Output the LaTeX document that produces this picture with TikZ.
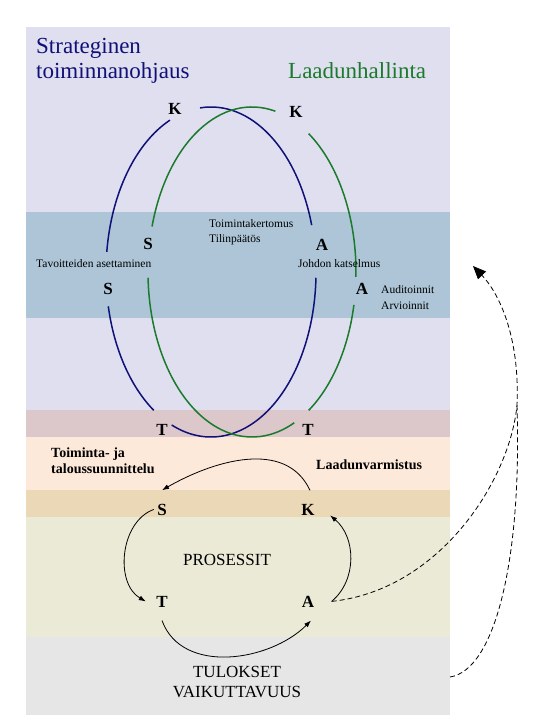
\documentclass[tikz,border=0pt]{standalone}
\usepackage{fontspec}
\setmainfont{Liberation Serif}
\usetikzlibrary{arrows.meta}
\definecolor{lavender}{RGB}{223,223,239}
\definecolor{steelband}{RGB}{173,197,214}
\definecolor{mauveband}{RGB}{220,199,203}
\definecolor{peachband}{RGB}{253,233,218}
\definecolor{tanband}{RGB}{234,216,183}
\definecolor{oliveband}{RGB}{235,234,215}
\definecolor{greyband}{RGB}{230,230,230}
\definecolor{navyline}{RGB}{16,16,120}
\definecolor{greenline}{RGB}{27,122,44}
\tikzstyle{bluering} = [navyline, line width=1.5pt]
\tikzstyle{greenring} = [greenline, line width=1.5pt]
\tikzstyle{title} = [font=\fontsize{23}{27}\selectfont, anchor=base west, inner sep=0pt]
\tikzstyle{letter} = [font=\fontsize{17}{20}\selectfont\bfseries, anchor=base]
\tikzstyle{big} = [font=\fontsize{17}{20}\selectfont, anchor=base]
\tikzstyle{note} = [font=\fontsize{11.5}{14}\selectfont, anchor=base west, inner sep=0pt]
\tikzstyle{boldnote} = [font=\fontsize{14}{16}\selectfont\bfseries, anchor=base west, inner sep=0pt]
\tikzstyle{arrow} = [line width=0.8pt, -{Latex[length=7pt,width=5pt]}]
\tikzstyle{dashline} = [line width=0.8pt, dash pattern=on 5pt off 3pt]
\tikzstyle{dasharrow} = [dashline, -{Triangle[length=13pt,width=11pt]}]

\begin{document}
\begin{tikzpicture}[x=1pt,y=1pt]
\useasboundingbox (0,0) rectangle (551,-728);
\fill[lavender] (26,-27) rectangle (450,-212);
\fill[steelband] (26,-212) rectangle (450,-318);
\fill[lavender] (26,-318) rectangle (450,-410);
\fill[mauveband] (26,-410) rectangle (450,-437);
\fill[peachband] (26,-437) rectangle (450,-490);
\fill[tanband] (26,-490) rectangle (450,-517);
\fill[oliveband] (26,-517) rectangle (450,-637);
\fill[greyband] (26,-637) rectangle (450,-715);

\coordinate (bc) at (211,-272);
\coordinate (gc) at (252,-272);
\foreach \a/\b in {16.5/96, 113/173, 192/237, 248/358}
  \draw[bluering] (bc) ++(\a:105pt and 165pt) arc[start angle=\a, end angle=\b, x radius=105pt, y radius=165pt];
\foreach \a/\b in {77/164, 182/294, 303/348.5, 358.3/417}
  \draw[greenring] (gc) ++(\a:104pt and 165pt) arc[start angle=\a, end angle=\b, x radius=104pt, y radius=165pt];

\node[title, navyline] (strat) at (36,-53) {Strateginen};
\node[title, navyline] (ohjaus) at (36,-78) {toiminnanohjaus};
\node[title, greenline] (laatu) at (288,-78) {Laadunhallinta};

\node[letter] (kb) at (175,-114) {K};
\node[letter] (kg) at (296,-117) {K};
\node[letter] (sg) at (148,-249) {S};
\node[letter] (sb) at (108,-294) {S};
\node[letter] (ab) at (322,-250) {A};
\node[letter] (ag) at (362,-294) {A};
\node[letter] (tb) at (162,-435) {T};
\node[letter] (tg) at (308,-435) {T};

\node[note] (tkert) at (209,-227) {Toimintakertomus};
\node[note] (tilin) at (209,-242) {Tilinpäätös};
\node[note] (tavo) at (36,-267) {Tavoitteiden asettaminen};
\node[note] (johto) at (298,-267) {Johdon katselmus};
\node[note] (audit) at (381,-293) {Auditoinnit};
\node[note] (arvio) at (381,-309) {Arvioinnit};

\node[boldnote] (suun1) at (51,-457) {Toiminta- ja};
\node[boldnote] (suun2) at (51,-473) {taloussuunnittelu};
\node[boldnote] (varm) at (316,-469) {Laadunvarmistus};

\node[letter] (sl) at (162,-515) {S};
\node[letter] (kl) at (308,-515) {K};
\node[letter] (tl) at (162,-607) {T};
\node[letter] (al) at (308,-607) {A};
\node[big] (pros) at (227,-565) {PROSESSIT};
\node[big] (tul1) at (237,-677) {TULOKSET};
\node[big] (tul2) at (237,-697) {VAIKUTTAVUUS};

\draw[arrow] ([xshift=2,yshift=10]kl.north) to[out=115, in=30] ([yshift=10]sl.north);
\draw[arrow] (sl.west) to[out=200, in=150] ([xshift=-7]tl.west);
\draw[arrow] ([yshift=-10]tl.south) to[out=-70, in=-135] ([xshift=3,yshift=-10]al.south);
\draw[arrow] ([xshift=14]al.east) to[out=40, in=-40] ([xshift=12,yshift=-6]kl.east);

\coordinate (fb) at (473,-266);
\coordinate (turn) at (517,-405);
\coordinate (tulr) at (450,-677);
\draw[dasharrow] ([xshift=14]al.east) .. controls (440,-590) and (510,-480) .. (turn) .. controls (520,-335) and (498,-292) .. (fb);
\draw[dashline] (tulr) .. controls (495,-670) and (522,-560) .. (turn);
\end{tikzpicture}
\end{document}
